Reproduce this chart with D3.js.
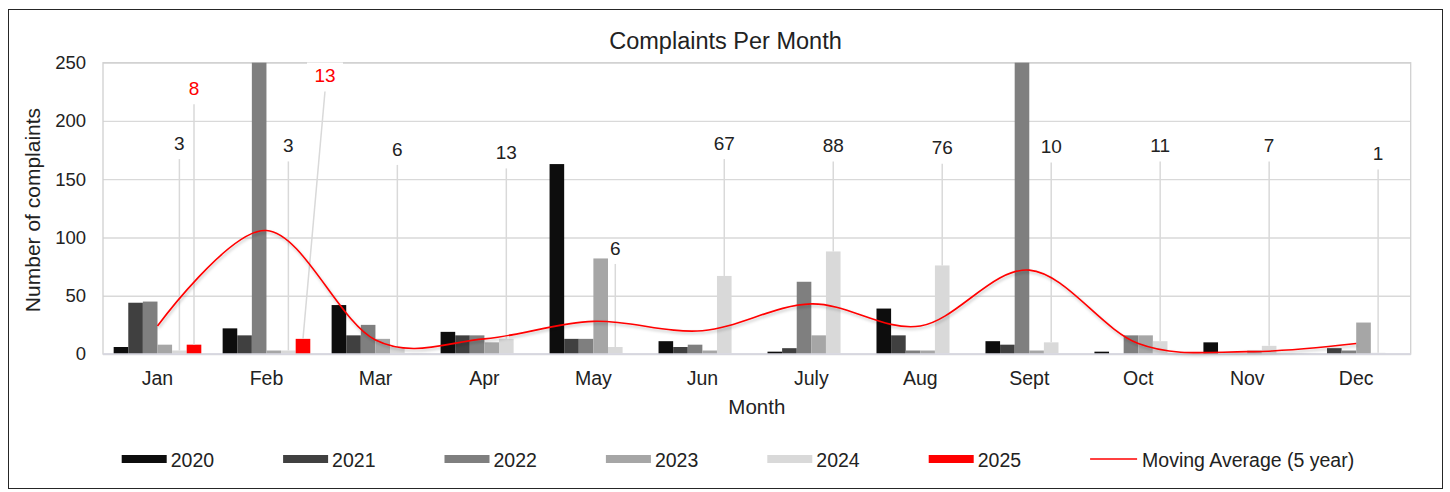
<!DOCTYPE html>
<html>
<head>
<meta charset="utf-8">
<script src="https://cdn.jsdelivr.net/npm/d3@7/dist/d3.min.js"></script>
<style>
  body { margin: 0; background: #fff; }
  text { font-family: "Liberation Sans", Arial, sans-serif; fill: #222; }
</style>
</head>
<body>
<div id="chart"></div>
<script>
// values
const months = ["Jan", "Feb", "Mar", "Apr", "May", "Jun", "July", "Aug", "Sept", "Oct", "Nov", "Dec"];
const years = ["2020", "2021", "2022", "2023", "2024", "2025"];
const y2020 = [6, 22, 42, 19, 163, 11, 2, 39, 11, 2, 10, 0];
const y2021 = [44, 16, 16, 16, 13, 6, 5, 16, 8, 0, 0, 5];
const y2022 = [45, 490, 25, 16, 13, 8, 62, 3, 330, 16, 0, 3];
const y2023 = [8, 3, 13, 10, 82, 3, 16, 3, 3, 16, 3, 27];
const y2024 = [3, 3, 6, 13, 6, 67, 88, 76, 10, 11, 7, 1];
const y2025 = [8, 13, null, null, null, null, null, null, null, null, null, null];
const movingAvg = [24, 106, 12, 13, 28, 20, 43, 24, 72, 9, 2, 9];
const yTicks = [0, 50, 100, 150, 200, 250];

const seriesValues = [y2020, y2021, y2022, y2023, y2024, y2025];
const colours = ["#0d0d0d", "#404040", "#7f7f7f", "#a6a6a6", "#d9d9d9", "#ff0000"];

// where the hand-placed data labels sit (value units) and any sideways nudge (px)
const label2024Level = [181, 179, 176, 173, 91, 181, 179, 177, 178, 179, 179, 172];
const label2025Level = [228, 239];
const label2025Shift = [0, 22];

const svgWidth = 1450, svgHeight = 492;
const margin = {top: 62.7, right: 39.3, bottom: 138, left: 103};
const width = svgWidth - margin.left - margin.right;
const height = svgHeight - margin.top - margin.bottom;

const svg = d3.select("#chart").append("svg")
    .attr("width", svgWidth)
    .attr("height", svgHeight);

const defs = svg.append("defs");
defs.append("filter")
    .attr("id", "line-shadow")
    .attr("x", "-5%").attr("y", "-20%").attr("width", "110%").attr("height", "140%")
    .append("feDropShadow")
        .attr("dx", 1).attr("dy", 2)
        .attr("stdDeviation", 1.5)
        .attr("flood-color", "#000")
        .attr("flood-opacity", 0.25);

// chart border
svg.append("rect")
    .attr("x", 8.5).attr("y", 9.5)
    .attr("width", 1434).attr("height", 479)
    .attr("fill", "#fff")
    .attr("stroke", "#262626")
    .attr("stroke-width", 1);

svg.append("text")
    .attr("x", 725.5)
    .attr("y", 41)
    .attr("dy", "0.35em")
    .attr("text-anchor", "middle")
    .style("font-size", "23.5px")
    .text("Complaints Per Month");

const plotArea = svg.append("g")
    .attr("class", "plot-area")
    .attr("transform", `translate(${margin.left},${margin.top})`);

const xscale = d3.scaleBand()
    .domain(months)
    .range([0, width]);

const xinner = d3.scaleBand()
    .domain(years)
    .range([0, xscale.bandwidth()])
    .paddingOuter(0.73);

const yscale = d3.scaleLinear()
    .domain([0, 250])
    .range([height, 0])
    .clamp(true);

// gridlines
const yGrid = d3.axisLeft(yscale).tickValues(yTicks).tickSize(-width).tickFormat("");
plotArea.append("g")
    .attr("class", "grid")
    .call(yGrid)
    .call(g => g.select(".domain").remove())
    .call(g => g.selectAll("line").attr("stroke", "#d9d9d9").attr("stroke-width", 1.3));

plotArea.append("rect")
    .attr("width", width)
    .attr("height", height)
    .attr("fill", "none")
    .attr("stroke", "#d0d0d0")
    .attr("stroke-width", 1.3);

// bars
const groups = plotArea.selectAll(".month")
    .data(months)
    .join("g")
        .attr("class", "month")
        .attr("transform", d => `translate(${xscale(d)},0)`);

groups.selectAll("rect")
    .data((m, i) => years.map((yr, k) => ({year: yr, k: k, value: seriesValues[k][i]})))
    .join("rect")
        .filter(d => d.value !== null && d.value > 0)
        .attr("x", d => xinner(d.year))
        .attr("width", xinner.bandwidth())
        .attr("y", d => yscale(d.value))
        .attr("height", d => height - yscale(d.value))
        .attr("fill", d => colours[d.k]);

// x axis line
plotArea.append("line")
    .attr("x1", 0).attr("x2", width)
    .attr("y1", height).attr("y2", height)
    .attr("stroke", "#d9d9e3")
    .attr("stroke-width", 1.5);

// data labels with leader lines
const labelData = [];
y2024.forEach((v, i) => labelData.push({
    month: months[i], year: "2024", value: v, level: label2024Level[i], shift: 0, colour: "#222", boxed: false
}));
y2025.forEach((v, i) => {
    if (v !== null) labelData.push({
        month: months[i], year: "2025", value: v, level: label2025Level[i], shift: label2025Shift[i], colour: "#ff0000", boxed: true
    });
});

const barCentre = d => xscale(d.month) + xinner(d.year) + xinner.bandwidth() / 2;

plotArea.selectAll(".leader")
    .data(labelData)
    .join("line")
        .attr("class", "leader")
        .attr("x1", d => barCentre(d) + d.shift)
        .attr("y1", d => yscale(d.level) + 16)
        .attr("x2", d => barCentre(d))
        .attr("y2", d => yscale(d.value))
        .attr("stroke", "#d9d9d9")
        .attr("stroke-width", 1.5);

const labels = plotArea.selectAll(".data-label")
    .data(labelData)
    .join("g")
        .attr("class", "data-label")
        .attr("transform", d => `translate(${barCentre(d) + d.shift},${yscale(d.level)})`);

labels.filter(d => d.boxed)
    .append("rect")
        .attr("x", -18).attr("y", -13)
        .attr("width", 36).attr("height", 26)
        .attr("fill", "#fff");

labels.append("text")
    .attr("text-anchor", "middle")
    .attr("dy", "0.35em")
    .style("font-size", "19px")
    .style("fill", d => d.colour)
    .text(d => d.value);

// moving average
const line = d3.line()
    .x((d, i) => xscale(months[i]) + xscale.bandwidth() / 2)
    .y(d => yscale(d))
    .curve(d3.curveCatmullRom.alpha(0));

plotArea.append("path")
    .datum(movingAvg)
    .attr("fill", "none")
    .attr("stroke", "#ff0000")
    .attr("stroke-width", 1.6)
    .attr("filter", "url(#line-shadow)")
    .attr("d", line);

// axes
const xAxis = d3.axisBottom(xscale).tickSize(0);
plotArea.append("g")
    .attr("class", "axis-x")
    .attr("transform", `translate(0,${height})`)
    .call(xAxis)
    .call(g => g.select(".domain").remove())
    .call(g => g.selectAll("text")
        .attr("y", 24)
        .attr("dy", "0.35em")
        .attr("fill", "#222")
        .style("font-size", "19.5px")
        .style("font-family", "Liberation Sans, Arial, sans-serif"));

const yAxis = d3.axisLeft(yscale).tickValues(yTicks).tickSize(0).tickPadding(17);
plotArea.append("g")
    .attr("class", "axis-y")
    .call(yAxis)
    .call(g => g.select(".domain").remove())
    .call(g => g.selectAll("text")
        .attr("fill", "#222")
        .style("font-size", "18.5px")
        .style("font-family", "Liberation Sans, Arial, sans-serif"));

svg.append("text")
    .attr("x", margin.left + width / 2)
    .attr("y", 406.5)
    .attr("dy", "0.35em")
    .attr("text-anchor", "middle")
    .style("font-size", "20.5px")
    .text("Month");

svg.append("text")
    .attr("transform", "rotate(-90)")
    .attr("x", -210)
    .attr("y", 33)
    .attr("dy", "0.35em")
    .attr("text-anchor", "middle")
    .style("font-size", "21px")
    .text("Number of complaints");

// legend
const legendItems = years.map((yr, k) => ({name: yr, colour: colours[k], kind: "bar"}));
legendItems.push({name: "Moving Average (5 year)", colour: "#ff0000", kind: "line"});

const legend = svg.append("g")
    .attr("class", "legend")
    .selectAll("g")
    .data(legendItems)
    .join("g")
        .attr("transform", (d, i) => `translate(${121.7 + i * 161.4},459)`);

legend.filter(d => d.kind === "bar")
    .append("rect")
        .attr("x", 0).attr("y", -4)
        .attr("width", 45).attr("height", 8)
        .attr("fill", d => d.colour);

legend.filter(d => d.kind === "line")
    .append("line")
        .attr("x1", 0).attr("x2", 47)
        .attr("y1", 0).attr("y2", 0)
        .attr("stroke", d => d.colour)
        .attr("stroke-width", 1.6);

legend.append("text")
    .attr("x", d => d.kind === "bar" ? 49 : 52)
    .attr("y", 1)
    .attr("dy", "0.35em")
    .style("font-size", "19.5px")
    .text(d => d.name);
</script>
</body>
</html>
